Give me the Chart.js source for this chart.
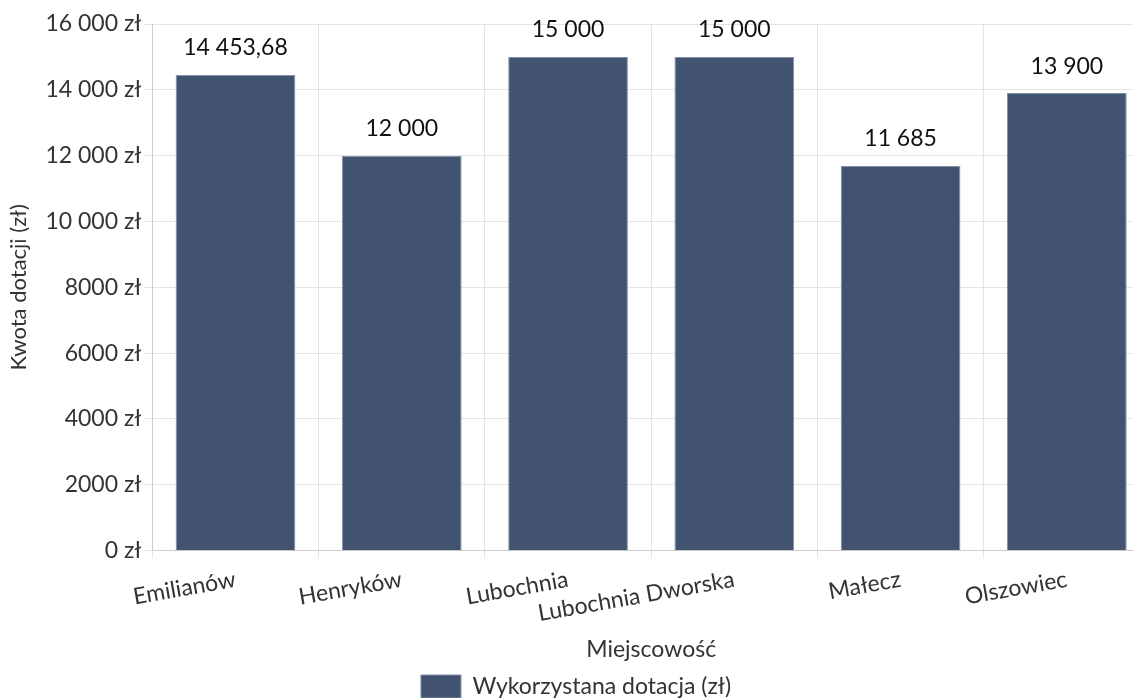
<!DOCTYPE html>
<html>
<head>
<meta charset="utf-8">
<script src="https://cdn.jsdelivr.net/npm/chart.js@4/dist/chart.umd.min.js"></script>
<style>
    html, body { margin: 0; padding: 0; overflow: hidden; background: #fff; }
    #wrap { width: 1150px; height: 708px; position: relative; }
</style>
</head>
<body>
<div id="wrap"><canvas id="ctx"></canvas></div>
<script>
const places = ['Emilianów', 'Henryków', 'Lubochnia', 'Lubochnia Dworska', 'Małecz', 'Olszowiec'];
const grantUsed = [14453.68, 12000, 15000, 15000, 11685, 13900];
const yTicks = [0, 2000, 4000, 6000, 8000, 10000, 12000, 14000, 16000];

const plFmt = new Intl.NumberFormat('pl-PL', {maximumFractionDigits: 2});

// labels above bars, no datalabels plugin offline
const valueLabels = {
    id: 'valueLabels',
    afterDatasetsDraw(chart) {
        const c = chart.ctx;
        c.save();
        c.font = '23px Lato';
        c.fillStyle = '#111';
        c.textAlign = 'center';
        c.textBaseline = 'middle';
        chart.getDatasetMeta(0).data.forEach((bar, i) => {
            c.fillText(plFmt.format(grantUsed[i]), bar.x, bar.y - 27);
        });
        c.restore();
    }
};

Chart.defaults.font.family = 'Lato';
Chart.defaults.color = '#444';

new Chart(document.getElementById('ctx'), {
    type: 'bar',
    data: {
        labels: places,
        datasets: [{
            label: 'Wykorzystana dotacja (zł)',
            data: grantUsed,
            backgroundColor: '#425370',
            borderColor: '#8390a6',
            borderWidth: 1
        }]
    },
    options: {
        responsive: true,
        maintainAspectRatio: false,
        animation: false,
        layout: {padding: {top: 24, left: 2, right: 0, bottom: 0}},
        plugins: {
            legend: {
                position: 'bottom',
                labels: {font: {size: 23}, color: '#333', boxWidth: 40, boxHeight: 23, padding: 10}
            },
            tooltip: {enabled: false}
        },
        scales: {
            x: {
                grid: {color: '#e4e4e4'},
                ticks: {font: {size: 23}, color: '#333', minRotation: 10, maxRotation: 10, autoSkip: false, padding: 7},
                title: {display: true, text: 'Miejscowość', font: {size: 23}, color: '#333', padding: {top: 1, bottom: 2}}
            },
            y: {
                min: 0,
                max: 16000,
                afterBuildTicks: axis => { axis.ticks = yTicks.map(v => ({value: v})); },
                grid: {color: '#e4e4e4'},
                ticks: {
                    font: {size: 23},
                    color: '#333',
                    callback: v => plFmt.format(v) + ' zł'
                },
                title: {display: true, text: 'Kwota dotacji (zł)', font: {size: 22}, color: '#333', padding: {top: 4, bottom: 10}}
            }
        }
    },
    plugins: [valueLabels]
});
</script>
</body>
</html>
